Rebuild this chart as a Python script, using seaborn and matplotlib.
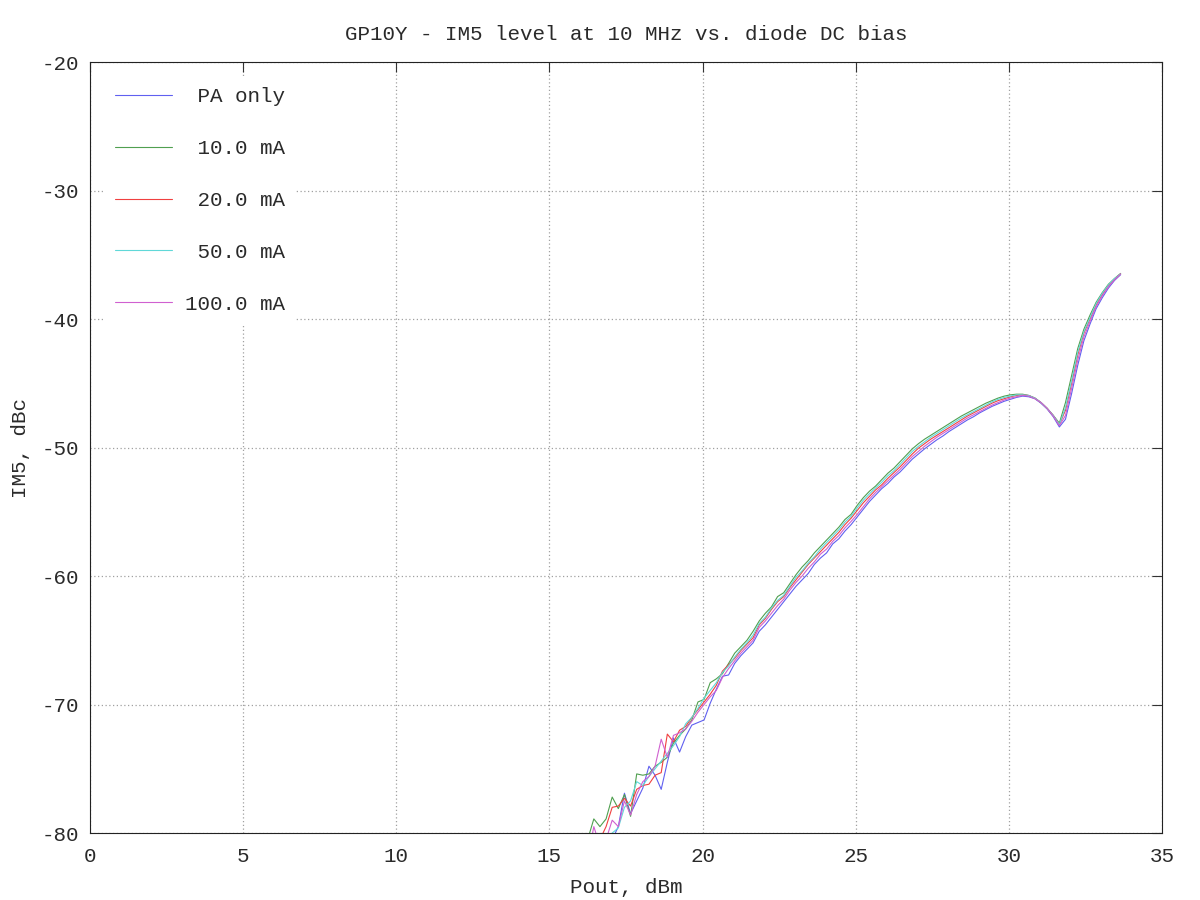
import matplotlib
matplotlib.use("Agg")
import matplotlib.pyplot as plt
import seaborn as sns
import pandas as pd

pout = [16.25, 16.45, 16.65, 16.85, 17.05, 17.25, 17.45, 17.65, 17.85, 18.05,
        18.25, 18.45, 18.65, 18.85, 19.05, 19.25, 19.45, 19.65, 19.85, 20.05,
        20.25, 20.45, 20.65, 20.85, 21.05, 21.25, 21.45, 21.65, 21.85, 22.05,
        22.25, 22.45, 22.65, 22.85, 23.05, 23.25, 23.45, 23.65, 23.85, 24.05,
        24.25, 24.45, 24.65, 24.85, 25.05, 25.25, 25.45, 25.65, 25.85, 26.05,
        26.25, 26.45, 26.65, 26.85, 27.05, 27.25, 27.45, 27.65, 27.85, 28.05,
        28.25, 28.45, 28.65, 28.85, 29.05, 29.25, 29.45, 29.65, 29.85, 30.05,
        30.25, 30.45, 30.65, 30.85, 31.05, 31.25, 31.45, 31.65, 31.85, 32.05,
        32.25, 32.45, 32.65, 32.85, 33.05, 33.25, 33.45, 33.65]

im5_pa_only = [-83.0, -82.0, -81.5, -81.0, -80.5, -79.5, -76.9, -78.5, -77.5, -76.5,
               -74.8, -75.5, -76.6, -74.5, -72.6, -73.7, -72.5, -71.6, -71.4, -71.2,
               -69.9, -68.8, -67.8, -67.7, -66.8, -66.2, -65.7, -65.2, -64.3, -63.8,
               -63.2, -62.6, -62.0, -61.4, -60.8, -60.3, -59.8, -59.1, -58.6, -58.2,
               -57.5, -57.1, -56.5, -56.0, -55.4, -54.8, -54.2, -53.7, -53.2, -52.8,
               -52.3, -51.9, -51.4, -50.9, -50.5, -50.1, -49.75, -49.4, -49.1, -48.75,
               -48.45, -48.15, -47.85, -47.6, -47.3, -47.05, -46.8, -46.6, -46.4, -46.25,
               -46.1, -46.0, -46.05, -46.2, -46.55, -47.0, -47.6, -48.4, -47.8, -45.8,
               -43.6, -41.7, -40.4, -39.2, -38.35, -37.6, -37.0, -36.55]

im5_10ma = [-80.5, -78.9, -79.5, -78.9, -77.2, -78.1, -77.0, -78.7, -75.4, -75.5,
            -75.4, -74.8, -74.5, -74.1, -73.0, -72.4, -71.9, -71.2, -69.8, -69.6,
            -68.3, -68.0, -67.6, -66.8, -66.0, -65.5, -65.0, -64.3, -63.5, -62.9,
            -62.4, -61.6, -61.3, -60.6, -59.9, -59.3, -58.8, -58.2, -57.7, -57.2,
            -56.7, -56.2, -55.6, -55.2, -54.5, -53.9, -53.4, -53.0, -52.5, -52.0,
            -51.6, -51.1, -50.6, -50.1, -49.7, -49.35, -49.05, -48.75, -48.45, -48.15,
            -47.85, -47.55, -47.3, -47.05, -46.8, -46.55, -46.35, -46.15, -46.0, -45.9,
            -45.85, -45.85, -45.95, -46.15, -46.5, -46.95, -47.5, -48.1, -46.5, -44.4,
            -42.3, -40.8, -39.7, -38.7, -37.95, -37.3, -36.85, -36.45]

im5_20ma = [-82.0, -81.0, -80.5, -79.5, -78.0, -77.9, -77.3, -77.9, -76.6, -76.3,
            -76.2, -75.5, -75.3, -72.3, -72.9, -72.0, -71.7, -71.0, -70.4, -69.8,
            -69.2, -68.5, -67.4, -66.9, -66.4, -65.8, -65.3, -64.8, -63.8, -63.3,
            -62.6, -62.0, -61.6, -60.9, -60.3, -59.7, -59.1, -58.6, -58.1, -57.6,
            -57.1, -56.6, -56.0, -55.5, -54.9, -54.3, -53.8, -53.3, -52.9, -52.4,
            -51.95, -51.5, -51.0, -50.5, -50.05, -49.7, -49.35, -49.05, -48.75, -48.45,
            -48.15, -47.85, -47.55, -47.3, -47.05, -46.8, -46.55, -46.35, -46.2, -46.05,
            -45.95, -45.9, -45.95, -46.15, -46.5, -46.95, -47.5, -48.2, -47.1, -45.0,
            -42.8, -41.1, -40.0, -38.9, -38.1, -37.4, -36.9, -36.5]

im5_50ma = [-83.0, -82.0, -81.0, -80.5, -80.0, -79.6, -78.0, -77.5, -76.0, -76.3,
            -75.6, -75.0, -74.4, -73.8, -73.2, -72.5, -71.5, -71.0, -70.3, -69.5,
            -68.9, -68.3, -67.5, -67.0, -66.3, -65.7, -65.2, -64.6, -63.7, -63.2,
            -62.5, -61.9, -61.5, -60.8, -60.1, -59.6, -59.0, -58.5, -57.9, -57.4,
            -56.9, -56.4, -55.8, -55.35, -54.7, -54.1, -53.6, -53.15, -52.7, -52.2,
            -51.8, -51.3, -50.8, -50.3, -49.9, -49.55, -49.2, -48.9, -48.6, -48.3,
            -48.0, -47.7, -47.45, -47.2, -46.95, -46.7, -46.45, -46.25, -46.1, -46.0,
            -45.9, -45.9, -45.95, -46.15, -46.5, -46.95, -47.5, -48.2, -46.9, -44.8,
            -42.6, -41.0, -39.9, -38.8, -38.0, -37.35, -36.85, -36.5]

im5_100ma = [-82.0, -79.5, -81.0, -80.5, -79.0, -79.5, -77.5, -78.6, -77.0, -76.0,
             -75.6, -74.8, -72.7, -74.1, -72.4, -72.2, -71.9, -71.3, -70.6, -70.0,
             -69.4, -68.9, -67.9, -67.2, -66.6, -66.0, -65.5, -65.0, -64.0, -63.5,
             -62.9, -62.3, -61.8, -61.1, -60.5, -60.0, -59.4, -58.9, -58.3, -57.9,
             -57.3, -56.85, -56.25, -55.75, -55.2, -54.6, -54.0, -53.5, -53.05, -52.6,
             -52.15, -51.7, -51.2, -50.7, -50.3, -49.9, -49.55, -49.2, -48.9, -48.6,
             -48.3, -48.0, -47.7, -47.45, -47.2, -46.95, -46.7, -46.5, -46.3, -46.15,
             -46.05, -45.95, -46.0, -46.2, -46.5, -46.95, -47.55, -48.3, -47.5, -45.4,
             -43.2, -41.4, -40.2, -39.05, -38.2, -37.5, -36.95, -36.5]

series_labels = [" PA only", " 10.0 mA", " 20.0 mA", " 50.0 mA", "100.0 mA"]
series_values = [im5_pa_only, im5_10ma, im5_20ma, im5_50ma, im5_100ma]
series_colors = ["#6060f0", "#50a050", "#f04040", "#60d8d8", "#d060d0"]

x_ticks = [0, 5, 10, 15, 20, 25, 30, 35]
y_ticks = [-80, -70, -60, -50, -40, -30, -20]

frames = []
for lab, vals in zip(series_labels, series_values):
    frames.append(pd.DataFrame({"Pout": pout, "IM5": vals, "series": lab}))
df = pd.concat(frames, ignore_index=True)

sns.set_theme(style="white")
plt.rcParams["font.family"] = ["Liberation Mono", "DejaVu Sans Mono"]
plt.rcParams["font.size"] = 15
txt_color = "#2a2a2a"
plt.rcParams["text.color"] = txt_color
plt.rcParams["axes.labelcolor"] = txt_color
plt.rcParams["xtick.color"] = txt_color
plt.rcParams["ytick.color"] = txt_color

fig = plt.figure(figsize=(12, 9), dpi=100)
ax = fig.add_axes([0.075, 0.0744, 0.8933, 0.8567])

sns.lineplot(data=df, x="Pout", y="IM5", hue="series",
             hue_order=series_labels,
             palette=dict(zip(series_labels, series_colors)),
             linewidth=0.8, ax=ax, sort=False, estimator=None)

ax.set_xlim(0, 35)
ax.set_ylim(-80, -20)
ax.set_xticks(x_ticks)
ax.set_yticks(y_ticks)
ax.set_xticklabels([str(t) for t in x_ticks])
ax.set_yticklabels([str(t) for t in y_ticks])
ax.grid(True, color="#a0a0a0", linestyle=(0, (1, 2)), linewidth=0.9)
ax.tick_params(axis="both", which="major", direction="in", length=7,
               width=0.8, color="#333333", top=True, right=True,
               labelsize=15)
ax.tick_params(axis="x", pad=10)
ax.tick_params(axis="y", pad=8)
for s in ax.spines.values():
    s.set_color("#222222")
    s.set_linewidth(0.8)

ax.set_xlabel("Pout, dBm", fontsize=15, labelpad=9)
ax.set_ylabel("IM5, dBc", fontsize=15, labelpad=8)
ax.set_title("GP10Y - IM5 level at 10 MHz vs. diode DC bias", fontsize=15, pad=15.5)

leg = ax.legend(loc="upper left", frameon=True, fontsize=15,
                handlelength=2.75, handletextpad=0.6, labelspacing=1.58,
                borderaxespad=0.7, borderpad=0.5, fancybox=False)
leg.get_frame().set_edgecolor("none")
leg.get_frame().set_facecolor("white")
leg.get_frame().set_alpha(1.0)
for line in leg.get_lines():
    line.set_linewidth(0.8)

fig.savefig("out.png", dpi=100)
